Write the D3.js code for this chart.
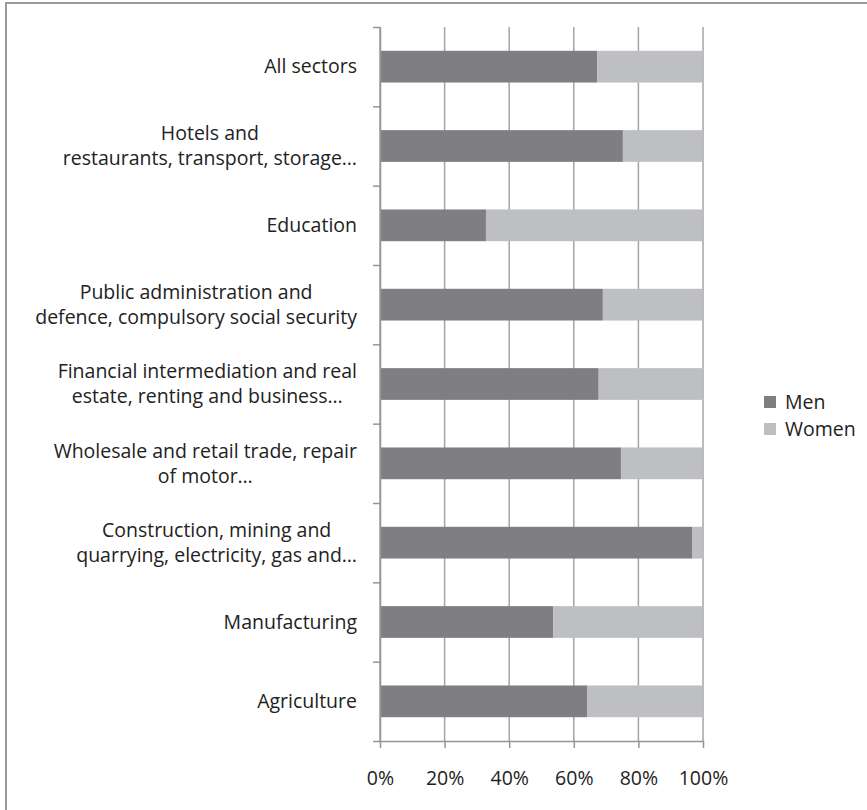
<!DOCTYPE html>
<html>
<head>
<meta charset="utf-8">
<script src="https://cdn.jsdelivr.net/npm/d3@7"></script>
<style>
  body { margin: 0; background: #fff; }
  text { font-family: "Open Sans", "Noto Sans", sans-serif; fill: #222; }
</style>
</head>
<body>
<svg id="chart" width="867" height="810"></svg>
<script>
// Sectors, listed top to bottom; each entry holds the wrapped label lines
const categories = [
  ["All sectors"],
  ["Hotels and", "restaurants, transport, storage…"],
  ["Education"],
  ["Public administration and", "defence, compulsory social security"],
  ["Financial intermediation and real", "estate, renting and business…"],
  ["Wholesale and retail trade, repair", "of motor…"],
  ["Construction, mining and", "quarrying, electricity, gas and…"],
  ["Manufacturing"],
  ["Agriculture"]
];

// Share of employment (%) by sex, same order as categories
const men   = [67.2, 75.2, 32.8, 69.0, 67.7, 74.6, 96.6, 53.6, 64.1];
const women = [32.8, 24.8, 67.2, 31.0, 32.3, 25.4,  3.4, 46.4, 35.9];

const seriesNames = ["Men", "Women"];
const seriesColors = ["#7f7f83", "#bebfc3"];
const xTicks = [0, 20, 40, 60, 80, 100];

const svg = d3.select("#chart");

// outer frame
svg.append("rect")
  .attr("x", 6).attr("y", 3)
  .attr("width", 900).attr("height", 900)
  .attr("fill", "none")
  .attr("stroke", "#9a9a9a")
  .attr("stroke-width", 2);

const plot = { left: 380, right: 703, top: 27, bottom: 741 };

const x = d3.scaleLinear().domain([0, 100]).range([plot.left, plot.right]);
const y = d3.scaleBand()
  .domain(d3.range(categories.length))
  .range([plot.top, plot.bottom])
  .paddingInner(0.6)
  .paddingOuter(0.3);
// band boundaries for the category tick marks
const yEdge = d3.scaleLinear().domain([0, categories.length]).range([plot.top, plot.bottom]);

// vertical gridlines
svg.append("g")
  .selectAll("line")
  .data(xTicks)
  .join("line")
  .attr("x1", d => x(d)).attr("x2", d => x(d))
  .attr("y1", plot.top).attr("y2", plot.bottom)
  .attr("stroke", "#a4a4a4")
  .attr("stroke-width", 1.5);

// stacked bars
const rows = categories.map((c, i) => ({ Men: men[i], Women: women[i] }));
const stacked = d3.stack().keys(seriesNames)(rows);

svg.append("g")
  .selectAll("g")
  .data(stacked)
  .join("g")
  .attr("fill", (d, i) => seriesColors[i])
  .selectAll("rect")
  .data(d => d.map((v, i) => ({ v, i })))
  .join("rect")
  .attr("x", d => x(d.v[0]))
  .attr("width", d => x(d.v[1]) - x(d.v[0]))
  .attr("y", d => y(d.i))
  .attr("height", y.bandwidth());

// x axis
const xAxis = svg.append("g")
  .attr("transform", `translate(0,${plot.bottom})`)
  .call(d3.axisBottom(x).tickValues(xTicks).tickFormat(d => d + "%").tickSize(7).tickSizeOuter(0));
xAxis.select(".domain").attr("stroke", "#959595").attr("stroke-width", 1.5);
xAxis.selectAll(".tick line").attr("stroke", "#959595").attr("stroke-width", 1.5);
xAxis.selectAll(".tick text")
  .attr("y", 44).attr("dy", 0)
  .style("font-size", "19.5px")
  .attr("fill", "#222");

// y axis with ticks on category boundaries
const yAxis = svg.append("g")
  .attr("transform", `translate(${plot.left},0)`)
  .call(d3.axisLeft(yEdge).tickValues(d3.range(categories.length + 1)).tickFormat("").tickSize(7).tickSizeOuter(0));
yAxis.select(".domain").attr("stroke", "#959595").attr("stroke-width", 1.5);
yAxis.selectAll(".tick line").attr("stroke", "#959595").attr("stroke-width", 1.5);

// category labels: lines centred on each other, block right-aligned
const lineH = 24.7;
const labelRight = 357;
const labels = svg.append("g").style("font-size", "19.5px");
categories.forEach((lines, i) => {
  const g = labels.append("g");
  const cy = y(i) + y.bandwidth() / 2;
  const texts = lines.map((s, k) =>
    g.append("text")
      .attr("text-anchor", "middle")
      .attr("y", cy + (k - (lines.length - 1) / 2) * lineH)
      .attr("dy", "0.35em")
      .text(s));
  const w = d3.max(texts, t => t.node().getComputedTextLength());
  texts.forEach(t => t.attr("x", labelRight - w / 2));
});

// legend
const legend = svg.append("g").style("font-size", "19.5px");
const legendY = [402, 429];
seriesNames.forEach((name, i) => {
  legend.append("rect")
    .attr("x", 764).attr("y", legendY[i] - 6)
    .attr("width", 12).attr("height", 12)
    .attr("fill", seriesColors[i]);
  legend.append("text")
    .attr("x", 785).attr("y", legendY[i])
    .attr("dy", "0.35em")
    .text(name);
});
</script>
</body>
</html>
